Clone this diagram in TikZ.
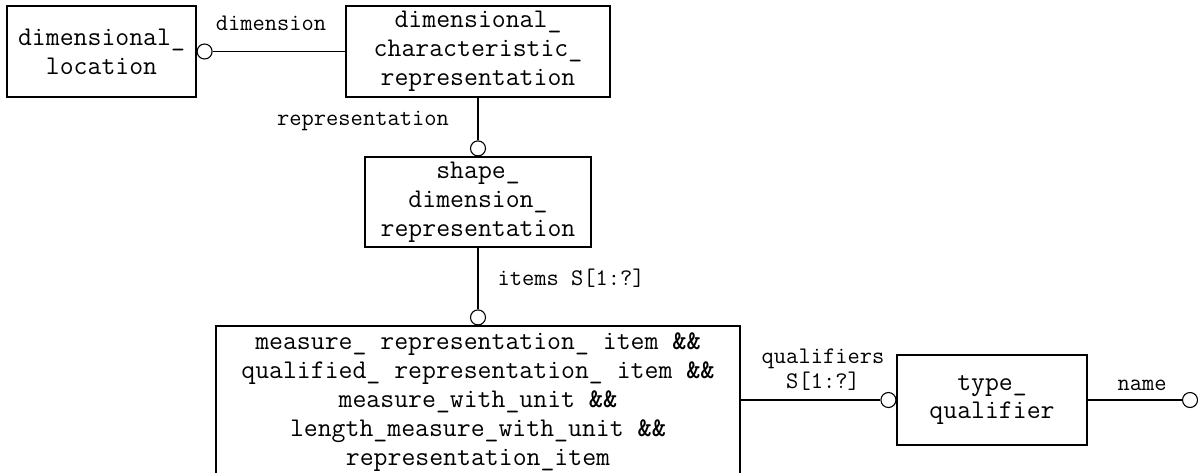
\documentclass[tikz,border=0pt]{standalone}
\usepackage{fontspec}
\usetikzlibrary{positioning}
\newcommand{\entfont}{\ttfamily\fontsize{13.5}{14.4}\selectfont}
\newcommand{\rolfont}{\ttfamily\fontsize{11.9}{12.5}\selectfont}
\tikzset{
  entity/.style={draw, align=center, inner sep=0pt, font=\entfont},
  ring/.style={draw, circle, fill=white, minimum size=7.5pt, inner sep=0pt},
  role/.style={inner sep=0pt, align=center, font=\rolfont}
}

\begin{document}
\begin{tikzpicture}[x=0.5pt, y=-0.5pt, line width=0.55pt]
  \useasboundingbox (0,0) rectangle (1203,472);

  \node[entity, minimum width=94.5pt, minimum height=45.5pt] (dl)  at (101.5,51.5) {dimensional\_\\location};
  \node[entity, minimum width=132pt,  minimum height=45.5pt] (dcr) at (478,51.5)   {dimensional\_\\characteristic\_\\representation};
  \node[entity, minimum width=113pt,  minimum height=45pt]   (sdr) at (478,202)    {shape\_\\dimension\_\\representation};
  \node[entity, minimum width=262pt,  minimum height=76pt]   (mri) at (478,402)    {measure\_ representation\_ item \textbf{\&\&}\\
    qualified\_ representation\_ item \textbf{\&\&}\\
    measure\_with\_unit \textbf{\&\&}\\
    length\_measure\_with\_unit \textbf{\&\&}\\
    representation\_item};
  \node[entity, minimum width=95pt,   minimum height=45pt]   (tq)  at (992,400)    {type\_\\qualifier};

  % rings
  \node[ring, anchor=west]  (dlo)   at (dl.east)   {};
  \node[ring, anchor=south] (sdro)  at (sdr.north) {};
  \node[ring, anchor=south] (mrio)  at (mri.north) {};
  \node[ring, anchor=east]  (tqo)   at (tq.west)   {};
  \node[ring]               (nameo) at (1190,400)  {};

  \draw (dlo) -- (dcr);
  \draw (dcr) -- (sdro);
  \draw (sdr) -- (mrio);
  \draw (mri.east |- tqo) -- (tqo);
  \draw (tq) -- (nameo);

  % roles
  \node[role] (dimr)  at (271,23)   {dimension};
  \node[role] (repr)  at (363,121)  {representation};
  \node[role, anchor=west] (itemr) at (497,278) {items S[1:?]};
  \node[role] (qualr) at (823,370)  {qualifiers\\S[1:?]};
  \node[role] (namer) at (1142,385) {name};
\end{tikzpicture}
\end{document}
